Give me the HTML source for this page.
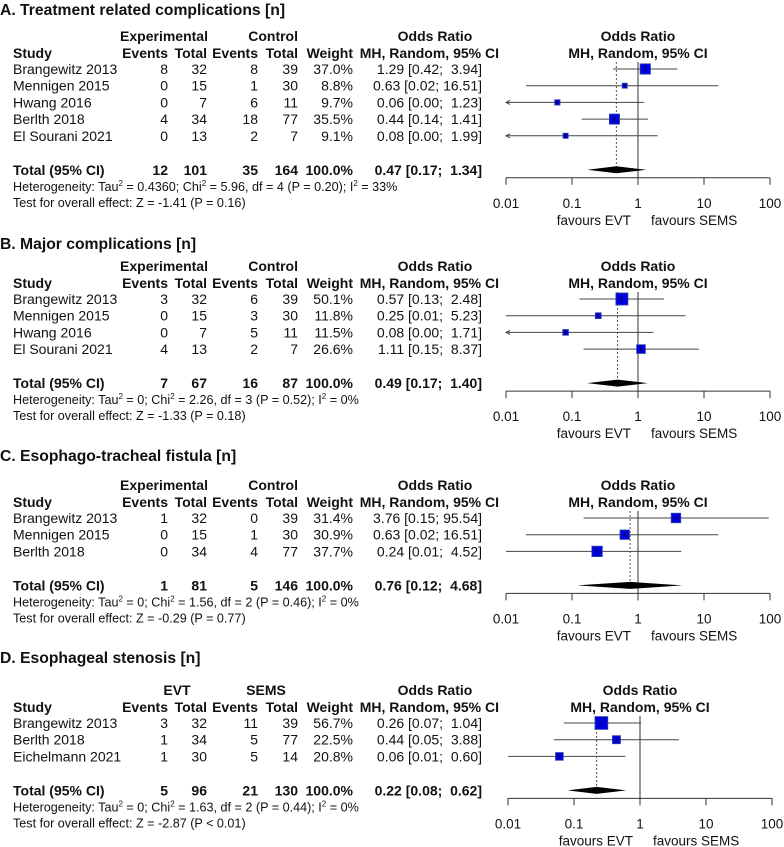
<!DOCTYPE html>
<html><head><meta charset="utf-8"><style>
html,body{margin:0;padding:0;background:#fff}
svg{display:block}
text{font-family:"Liberation Sans",Arial,sans-serif;fill:#111}
.t{font-size:14px}
.b{font-weight:bold}
.s{font-size:12.6px}
.ax{font-size:13.5px}
.title{font-size:15.7px;font-weight:bold}
</style></head><body>
<svg id="chart" width="784" height="847" viewBox="0 0 784 847" xmlns="http://www.w3.org/2000/svg"></svg>
<script>
// Panel A data
const aStudies = ["Brangewitz 2013","Mennigen 2015","Hwang 2016","Berlth 2018","El Sourani 2021"];
const aE1 = [8,0,0,4,0];
const aN1 = [32,15,7,34,13];
const aE2 = [8,1,6,18,2];
const aN2 = [39,30,11,77,7];
const aW = [37.0,8.8,9.7,35.5,9.1];
const aOR = [1.29,0.63,0.06,0.44,0.08];
const aLo = [0.42,0.02,0.00,0.14,0.00];
const aHi = [3.94,16.51,1.23,1.41,1.99];
const aTotal = [12,101,35,164,0.47,0.17,1.34];
// Panel B data
const bStudies = ["Brangewitz 2013","Mennigen 2015","Hwang 2016","El Sourani 2021"];
const bE1 = [3,0,0,4];
const bN1 = [32,15,7,13];
const bE2 = [6,3,5,2];
const bN2 = [39,30,11,7];
const bW = [50.1,11.8,11.5,26.6];
const bOR = [0.57,0.25,0.08,1.11];
const bLo = [0.13,0.01,0.00,0.15];
const bHi = [2.48,5.23,1.71,8.37];
const bTotal = [7,67,16,87,0.49,0.17,1.40];
// Panel C data
const cStudies = ["Brangewitz 2013","Mennigen 2015","Berlth 2018"];
const cE1 = [1,0,0];
const cN1 = [32,15,34];
const cE2 = [0,1,4];
const cN2 = [39,30,77];
const cW = [31.4,30.9,37.7];
const cOR = [3.76,0.63,0.24];
const cLo = [0.15,0.02,0.01];
const cHi = [95.54,16.51,4.52];
const cTotal = [1,81,5,146,0.76,0.12,4.68];
// Panel D data
const dStudies = ["Brangewitz 2013","Berlth 2018","Eichelmann 2021"];
const dE1 = [3,1,1];
const dN1 = [32,34,30];
const dE2 = [11,5,5];
const dN2 = [39,77,14];
const dW = [56.7,22.5,20.8];
const dOR = [0.26,0.44,0.06];
const dLo = [0.07,0.05,0.01];
const dHi = [1.04,3.88,0.60];
const dTotal = [5,96,21,130,0.22,0.08,0.62];
const tickVals = [0.01,0.1,1,10,100];
const tickLabels = ["0.01","0.1","1","10","100"];

const panels = [
 {key:"a",title:"A. Treatment related complications [n]",titleY:10,hy:36,g1:"Experimental",g2:"Control",st:aStudies,e1:aE1,n1:aN1,e2:aE2,n2:aN2,w:aW,or:aOR,lo:aLo,hi:aHi,tot:aTotal,het:["0.4360","5.96","4","0.20","33%"],test:"Z = -1.41 (P = 0.16)",dx:0},
 {key:"b",title:"B. Major complications [n]",titleY:244,hy:266,g1:"Experimental",g2:"Control",st:bStudies,e1:bE1,n1:bN1,e2:bE2,n2:bN2,w:bW,or:bOR,lo:bLo,hi:bHi,tot:bTotal,het:["0","2.26","3","0.52","0%"],test:"Z = -1.33 (P = 0.18)",dx:0},
 {key:"c",title:"C. Esophago-tracheal fistula [n]",titleY:456,hy:485,g1:"Experimental",g2:"Control",st:cStudies,e1:cE1,n1:cN1,e2:cE2,n2:cN2,w:cW,or:cOR,lo:cLo,hi:cHi,tot:cTotal,het:["0","1.56","2","0.46","0%"],test:"Z = -0.29 (P = 0.77)",dx:0},
 {key:"d",title:"D. Esophageal stenosis [n]",titleY:658,hy:690,g1:"EVT",g2:"SEMS",st:dStudies,e1:dE1,n1:dN1,e2:dE2,n2:dN2,w:dW,or:dOR,lo:dLo,hi:dHi,tot:dTotal,het:["0","1.63","2","0.44","0%"],test:"Z = -2.87 (P < 0.01)",dx:2}
];
const NS="http://www.w3.org/2000/svg";
const svg=document.getElementById('chart');
function mk(tag,attrs,parent){const e=document.createElementNS(NS,tag);for(const k in attrs)e.setAttribute(k,attrs[k]);(parent||svg).appendChild(e);return e;}
function txt(parent,x,y,s,cls,anchor){const e=mk('text',{x:x,y:y+5,class:cls,'text-anchor':anchor||'start'},parent);e.textContent=s;return e;}
function f2(v){return v.toFixed(2);}
function ciStr(o,l,h){const hs=f2(h);return f2(o)+" ["+f2(l)+"; "+(hs.length<5?" ":"")+hs+"]";}
const X0=506,DEC=66;
function xs(v,dx){return X0+dx+(Math.log10(Math.max(v,0.01))+2)*DEC;}

panels.forEach(p=>{
 const g=mk('g',{});
 
 
 const tt=txt(g,0,p.titleY,p.title,'title');
 
 
 const hy=p.hy, sy=hy+17;
 if(p.g1==="Experimental"){txt(g,164,hy,p.g1,'t b','middle');txt(g,298,hy,p.g2,'t b','end');}
 else{txt(g,177,hy,p.g1,'t b','middle');txt(g,266,hy,p.g2,'t b','middle');}
 txt(g,435,hy,"Odds Ratio",'t b','middle');
 txt(g,638+p.dx,hy,"Odds Ratio",'t b','middle');
 txt(g,13,sy,"Study",'t b');
 txt(g,168,sy,"Events",'t b','end');txt(g,207,sy,"Total",'t b','end');
 txt(g,258,sy,"Events",'t b','end');txt(g,298,sy,"Total",'t b','end');
 txt(g,353,sy,"Weight",'t b','end');
 txt(g,499,sy,"MH, Random, 95% CI",'t b','end');
 txt(g,638+p.dx,sy,"MH, Random, 95% CI",'t b','middle');
 const n=p.st.length;
 const rowY=i=>hy+33+16.7*i;
 const totY=rowY(n-1)+34;
 const axY=totY+8;
 const x1=xs(1,p.dx), xp=xs(p.tot[4],p.dx);
 const l1=mk('line',{x1:x1,x2:x1,y1:sy+9,y2:axY+7,stroke:'#333','stroke-width':1},g);
 
 
 const lp=mk('line',{x1:xp,x2:xp,y1:sy+9,y2:totY,stroke:'#555','stroke-width':1,'stroke-dasharray':'2,2'},g);
 
 
 for(let i=0;i<n;i++){
  const y=rowY(i);
  const r=mk('g',{},g);
  
  
  txt(r,13,y,p.st[i],'t');
  txt(r,168,y,String(p.e1[i]),'t','end');
  txt(r,207,y,String(p.n1[i]),'t','end');
  txt(r,258,y,String(p.e2[i]),'t','end');
  txt(r,298,y,String(p.n2[i]),'t','end');
  txt(r,353,y,p.w[i].toFixed(1)+"%",'t','end');
  const ot=txt(r,482,y,ciStr(p.or[i],p.lo[i],p.hi[i]),'t','end');
  ot.setAttribute('xml:space','preserve');ot.style.whiteSpace='pre';
  const xl=xs(p.lo[i],p.dx), xh=xs(Math.min(p.hi[i],100),p.dx), xo=xs(p.or[i],p.dx);
  const ci=mk('line',{x1:xl,x2:xh,y1:y,y2:y,stroke:'#444','stroke-width':1},r);
  
  
  if(p.lo[i]<0.01){
   const ar=mk('path',{d:`M${xl+4},${y-2} L${xl},${y} L${xl+4},${y+2}`,fill:'none',stroke:'#444','stroke-width':1},r);
   
   
  }
  const s=Math.sqrt(p.w[i])*1.7;
  const bx=mk('rect',{x:xo-s/2,y:y-s/2,width:s,height:s,fill:'#0000dd',stroke:'#3344aa','stroke-width':0.8},r);
  
  
  mk('line',{x1:xo,x2:xo,y1:y-2,y2:y+2,stroke:'#000','stroke-width':0.8},r);
 }
 const tr=mk('g',{},g);
 
 
 txt(tr,13,totY,"Total (95% CI)",'t b');
 txt(tr,168,totY,String(p.tot[0]),'t b','end');
 txt(tr,207,totY,String(p.tot[1]),'t b','end');
 txt(tr,258,totY,String(p.tot[2]),'t b','end');
 txt(tr,298,totY,String(p.tot[3]),'t b','end');
 txt(tr,353,totY,"100.0%",'t b','end');
 const tt2=txt(tr,482,totY,ciStr(p.tot[4],p.tot[5],p.tot[6]),'t b','end');
 tt2.setAttribute('xml:space','preserve');tt2.style.whiteSpace='pre';
 const dl=xs(p.tot[5],p.dx), dh=xs(p.tot[6],p.dx);
 const dia=mk('polygon',{points:`${dl},${totY} ${xp},${totY-3.5} ${dh},${totY} ${xp},${totY+3.5}`,fill:'#000'},tr);
 
 
 const h=p.het;
 const ht=mk('text',{x:13,y:totY+16.5+4.5,class:'s'},g);
 
 
 ht.innerHTML=`Heterogeneity: Tau<tspan dy="-5" font-size="8">2</tspan><tspan dy="5"> = ${h[0]}; Chi</tspan><tspan dy="-5" font-size="8">2</tspan><tspan dy="5"> = ${h[1]}, df = ${h[2]} (P = ${h[3]}); I</tspan><tspan dy="-5" font-size="8">2</tspan><tspan dy="5"> = ${h[4]}</tspan>`;
 const te=txt(g,13,totY+32,"Test for overall effect: "+p.test,'s');
 
 
 const ax=mk('g',{},g);
 
 
 mk('line',{x1:xs(0.01,p.dx),x2:xs(100,p.dx),y1:axY,y2:axY,stroke:'#333','stroke-width':1},ax);
 tickVals.forEach((v,k)=>{
  const x=xs(v,p.dx);
  mk('line',{x1:x,x2:x,y1:axY,y2:axY+7,stroke:'#333','stroke-width':1},ax);
  const tl=txt(ax,x,totY+33,tickLabels[k],'ax','middle');
  
  
 });
 txt(ax,x1-7,totY+50,"favours EVT",'ax','end');
 txt(ax,x1+13,totY+50,"favours SEMS",'ax','start');
});
</script>
</body></html>
